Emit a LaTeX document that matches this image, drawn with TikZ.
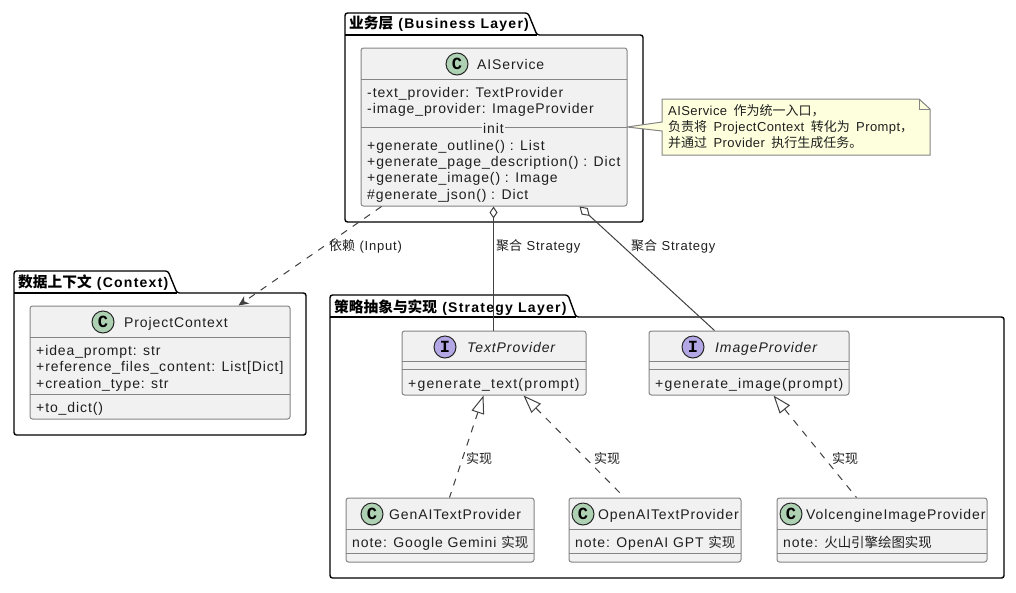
\documentclass[tikz,border=0pt]{standalone}
\usepackage{fontspec}
\usetikzlibrary{arrows.meta,calc}
\setmainfont{Liberation Sans}[LetterSpace=3.2,WordSpace=1.6]
\newfontfamily\boxlatin{Liberation Sans}[LetterSpace=6.4]
\newfontfamily\boxwide{Liberation Sans}[LetterSpace=8.4]
\newfontfamily\titlelatin{Liberation Sans}[LetterSpace=9]
\newfontfamily\edgelatin{Liberation Sans}[LetterSpace=6]
\newfontfamily\zhbox{Noto Sans CJK SC}[Scale=0.96]
\newfontfamily\zhtitle{Noto Sans CJK SC}[Scale=1.05]
\newfontfamily\zhnote{Noto Sans CJK SC}
\newfontfamily\zhedge{Noto Sans CJK SC}
\newfontfamily\spotfont{Liberation Mono}
\definecolor{boxfill}{HTML}{F1F1F1}
\definecolor{boxline}{HTML}{858585}
\definecolor{notefill}{HTML}{FEFFDD}
\definecolor{cfill}{HTML}{ADD1B2}
\definecolor{ifill}{HTML}{B4A7E5}
\tikzset{
  pkg/.style={draw=black,line width=1.4pt,rounded corners=2.5pt,fill=white},
  classbox/.style={draw=boxline,line width=1pt,fill=boxfill,rounded corners=2.5pt,anchor=north west,inner sep=0pt,xshift=-0.5pt,yshift=0.5pt},
  sepline/.style={draw=boxline,line width=1pt,xshift=-0.5pt,yshift=0.5pt},
  txt/.style={anchor=base west,inner sep=0pt,font=\fontsize{14}{16}\selectfont\boxlatin,text=black!88},
  widetxt/.style={txt,font=\fontsize{14}{16}\selectfont\boxwide},
  title/.style={anchor=base west,inner sep=0pt,font=\fontsize{14}{16}\selectfont\bfseries\titlelatin},
  edgetxt/.style={anchor=base west,inner sep=0pt,font=\fontsize{13}{15}\selectfont\edgelatin,text=black!88},
  notetxt/.style={anchor=base west,inner sep=0pt,font=\fontsize{13}{15}\selectfont,text=black!88},
  spot/.style={circle,draw=black!85,line width=1pt,minimum size=22pt,inner sep=0pt,font=\fontsize{17}{17}\selectfont\bfseries\spotfont},
  cspot/.style={spot,fill=cfill},
  ispot/.style={spot,fill=ifill},
  conn/.style={draw=black!75,line width=1pt},
  dep/.style={conn,dash pattern=on 7pt off 7pt,-{Stealth[length=10pt,width=9pt,inset=3pt]}},
  agg/.style={conn,{Diamond[open,fill=white,length=12pt,width=8pt]}-},
  aggwide/.style={conn,{Diamond[open,fill=white,length=14pt,width=9pt]}-},
  real/.style={conn,dash pattern=on 7pt off 7pt,{Triangle[open,fill=white,length=18pt,width=13pt]}-},
}
\begin{document}
\begin{tikzpicture}[x=1pt,y=-1pt]
\useasboundingbox (0,0) rectangle (1016,592);
% packages
\draw[pkg] (345,35) -- (345,13) -- (528,13) -- (537,35) -- (643,35) -- (643,222) -- (345,222) -- cycle;
\draw[pkg] (345,35) -- (537,35);
\node[title] (tbiz) at (349,28) {{\zhtitle 业务层} (Business Layer)};
\draw[pkg] (14,293) -- (14,271) -- (168,271) -- (177,293) -- (306,293) -- (306,435) -- (14,435) -- cycle;
\draw[pkg] (14,293) -- (177,293);
\node[title] (tctx) at (18,287) {{\zhtitle 数据上下文} (Context)};
\draw[pkg] (330,317) -- (330,295) -- (568,295) -- (576,317) -- (1004,317) -- (1004,578) -- (330,578) -- cycle;
\draw[pkg] (330,317) -- (576,317);
\node[title] (tstr) at (334,312) {{\zhtitle 策略抽象与实现} (Strategy Layer)};
% note
\draw[draw=boxline,line width=1pt,fill=notefill] (919,99) -- (662,99) -- (662,122) -- (627,127) -- (662,131) -- (662,155) -- (930,155) -- (930,109) -- cycle;
\draw[draw=boxline,line width=1pt] (919,99) -- (919,109) -- (930,109);
\node[notetxt] (n1) at (668,115) {AIService {\zhnote 作为统一入口，}};
\node[notetxt] (n2) at (668,131) {{\zhnote 负责将} ProjectContext {\zhnote 转化为} Prompt{\zhnote ，}};
\node[notetxt] (n3) at (668,147) {{\zhnote 并通过} Provider {\zhnote 执行生成任务。}};
% AIService
\node[classbox,minimum width=266pt,minimum height=158pt] (ai) at (361,48) {};
\draw[sepline] (361,80) -- (627,80);
\draw[sepline] (361,128) -- (627,128);
\node[cspot] (aic) at (457,64) {C};
\node[txt] (ain) at (477,69) {AIService};
\node[txt] (aia1) at (367,97) {-text\_provider: TextProvider};
\node[txt] (aia2) at (367,113) {-image\_provider: ImageProvider};
\node[txt,fill=boxfill,inner xsep=1pt] (aii) at (482,133) {init};
\node[txt] (aim1) at (367,150) {+generate\_outline() : List};
\node[txt] (aim2) at (367,166) {+generate\_page\_description() : Dict};
\node[txt] (aim3) at (367,182) {+generate\_image() : Image};
\node[txt] (aim4) at (367,199) {\#generate\_json() : Dict};
% ProjectContext
\node[classbox,minimum width=260pt,minimum height=113pt] (ctx) at (30,306) {};
\draw[sepline] (30,338) -- (290,338);
\draw[sepline] (30,395) -- (290,395);
\node[cspot] (ctxc) at (103,322) {C};
\node[txt] (ctxn) at (124,327) {ProjectContext};
\node[txt] (ctxa1) at (36,355) {+idea\_prompt: str};
\node[txt] (ctxa2) at (36,371) {+reference\_files\_content: List[Dict]};
\node[txt] (ctxa3) at (36,388) {+creation\_type: str};
\node[txt] (ctxm1) at (36,412) {+to\_dict()};
% TextProvider
\node[classbox,minimum width=184pt,minimum height=64pt] (tp) at (402,331) {};
\draw[sepline] (402,362) -- (586,362);
\draw[sepline] (402,370) -- (586,370);
\node[ispot] (tpc) at (445,347) {I};
\node[txt,font=\fontsize{14}{16}\selectfont\boxlatin\itshape] (tpn) at (467,352) {TextProvider};
\node[widetxt] (tpm) at (408,388) {+generate\_text(prompt)};
% ImageProvider
\node[classbox,minimum width=200pt,minimum height=64pt] (ip) at (649,331) {};
\draw[sepline] (649,362) -- (849,362);
\draw[sepline] (649,370) -- (849,370);
\node[ispot] (ipc) at (693,347) {I};
\node[txt,font=\fontsize{14}{16}\selectfont\boxlatin\itshape] (ipn) at (715,352) {ImageProvider};
\node[widetxt] (ipm) at (655,388) {+generate\_image(prompt)};
% GenAI
\node[classbox,minimum width=188pt,minimum height=64pt] (ga) at (346,498) {};
\draw[sepline] (346,530) -- (534,530);
\draw[sepline] (346,554) -- (534,554);
\node[cspot] (gac) at (372,514) {C};
\node[txt] (gan) at (389,519) {GenAITextProvider};
\node[txt] (gaf) at (352,547) {note: Google Gemini {\zhbox 实现}};
% OpenAI
\node[classbox,minimum width=172pt,minimum height=64pt] (oa) at (569,498) {};
\draw[sepline] (569,530) -- (741,530);
\draw[sepline] (569,554) -- (741,554);
\node[cspot] (oac) at (583,514) {C};
\node[txt] (oan) at (598,519) {OpenAITextProvider};
\node[txt] (oaf) at (575,547) {note: OpenAI GPT {\zhbox 实现}};
% Volcengine
\node[classbox,minimum width=210pt,minimum height=64pt] (vc) at (777,498) {};
\draw[sepline] (777,530) -- (987,530);
\draw[sepline] (777,554) -- (987,554);
\node[cspot] (vcc) at (791,514) {C};
\node[txt] (vcn) at (806,519) {VolcengineImageProvider};
\node[txt] (vcf) at (783,547) {note: {\zhbox 火山引擎绘图实现}};
% connectors
\draw[dep] ($(ai.south west)+(21,0)$) -- ($(ctx.north west)+(209,0)$);
\draw[agg] ($(ai.south west)+(133,0)$) -- ($(tp.north west)+(92,0)$);
\draw[aggwide] ($(ai.south west)+(219,0)$) -- ($(ip.north west)+(66,0)$);
\draw[real] ($(tp.south west)+(82,0)$) -- ($(ga.north west)+(104,0)$);
\draw[real] ($(tp.south west)+(122,0)$) -- ($(oa.north west)+(52,-4)$);
\draw[real] ($(ip.south west)+(125,0)$) -- ($(vc.north west)+(80,0)$);
% edge labels
\node[edgetxt] (l1) at (329,250) {{\zhedge 依赖} (Input)};
\node[edgetxt] (l2) at (496,250) {{\zhedge 聚合} Strategy};
\node[edgetxt] (l3) at (631,250) {{\zhedge 聚合} Strategy};
\node[edgetxt] (l4) at (466,463) {{\zhedge 实现}};
\node[edgetxt] (l5) at (594,463) {{\zhedge 实现}};
\node[edgetxt] (l6) at (832,463) {{\zhedge 实现}};
\end{tikzpicture}
\end{document}
